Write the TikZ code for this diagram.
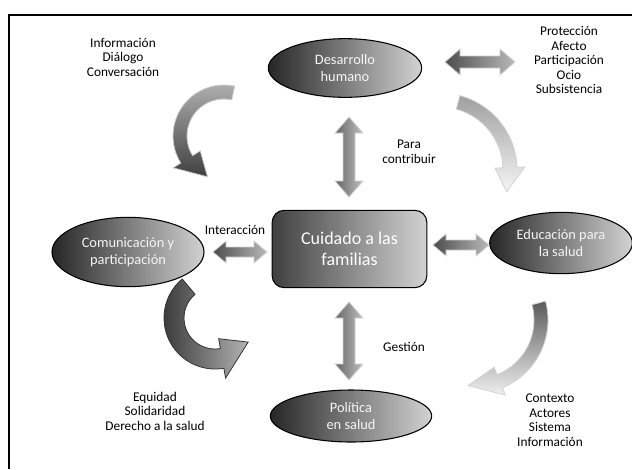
\documentclass[tikz,border=0pt]{standalone}
\usepackage{fontspec}
\setmainfont{Carlito}
\usetikzlibrary{shapes.geometric}
\newcommand\dblarrow[7]{%
  \begin{scope}[shift={#1},rotate=#2]
    \path[#7] (-#3,0) -- (-#3+#6,-#5) -- (-#3+#6,-#4) -- (#3-#6,-#4) -- (#3-#6,-#5)
      -- (#3,0) -- (#3-#6,#5) -- (#3-#6,#4) -- (-#3+#6,#4) -- (-#3+#6,#5) -- cycle;
  \end{scope}}
% center, R, start angle, head base angle, tip angle, half shaft, half head, style
\newcommand\curvedarrow[8]{%
  \begin{scope}[shift={#1}]
    \path[#8] (#3:#2+#6) arc[start angle=#3, end angle=#4, radius=#2+#6]
      -- (#4:#2+#7) -- (#5:#2) -- (#4:#2-#7) -- (#4:#2-#6)
      arc[start angle=#4, end angle=#3, radius=#2-#6] -- cycle;
  \end{scope}}
\begin{document}
\begin{tikzpicture}[x=0.75pt,y=-0.75pt,
  lbl/.style={align=center,font=\fontsize{10}{10.9}\selectfont,inner sep=0pt},
  oval/.style={ellipse,draw=black,line width=0.8pt,left color=black!85,right color=gray!35,
    text=white!92!gray,align=center,font=\fontsize{10.8}{13}\selectfont,inner sep=0pt},
  hub/.style={rectangle,rounded corners=9pt,draw=black,line width=0.8pt,left color=black!75,
    right color=gray!35,text=white,align=center,font=\fontsize{13.5}{15.5}\selectfont,
    minimum width=116pt,minimum height=58pt},
  darr/.style={draw=gray!35,line width=0.6pt,left color=black!70,right color=gray!55},
  darrv/.style={draw=gray!35,line width=0.6pt,left color=black!60,right color=gray!50},
  frame/.style={line width=1.3pt,black}]
\useasboundingbox (0,0) rectangle (632,469);
\draw[frame] (9,469) -- (9,15) -- (632,15);

\node[hub] (hub) at (349.5,249) {Cuidado a las\\familias};
\node[oval,minimum width=115pt,minimum height=44pt] (dh) at (345,68) {Desarrollo\\humano};
\node[oval,minimum width=114pt,minimum height=52pt] (cp) at (128,252) {Comunicación y\\participación};
\node[oval,minimum width=107pt,minimum height=46pt] (eps) at (561,243) {Educación para\\la salud};
\node[oval,minimum width=121pt,minimum height=39pt] (pol) at (351,416) {Política\\en salud};

\node[lbl] (info) at (123,57) {Información\\Diálogo\\Conversación};
\node[lbl] (prot) at (569,60) {Protección\\Afecto\\Participación\\Ocio\\Subsistencia};
\node[lbl] (para) at (409,152) {Para\\contribuir};
\node[lbl] (inter) at (235,230) {Interacción};
\node[lbl] (gest) at (404,347) {Gestión};
\node[lbl] (equi) at (155,411) {Equidad\\Solidaridad\\Derecho a la salud};
\node[lbl] (ctx) at (550,420) {Contexto\\Actores\\Sistema\\Información};

\dblarrow{(480,62)}{0}{35}{6}{13}{15}{darr}
\dblarrow{(240,252)}{0}{27}{5}{11}{13}{darr}
\dblarrow{(461,245)}{0}{28}{5}{11}{13}{darr}
\dblarrow{(349,157)}{90}{40}{6}{14}{16}{darrv}
\dblarrow{(349,341)}{90}{39}{6}{14}{16}{darrv}

\curvedarrow{(224,136)}{44}{282}{148}{112}{7}{16}{draw=gray!40,line width=0.6pt,top color=gray!60,bottom color=black!75}
\curvedarrow{(440,170)}{70}{-75}{-2}{18}{7}{15}{draw=gray!35,line width=0.6pt,top color=gray!75,bottom color=gray!8}
\curvedarrow{(215,318)}{41}{230}{80}{36}{10}{20}{draw=black!80,line width=0.6pt,left color=black!80,right color=gray!60}
\curvedarrow{(475,320)}{66}{-15}{68}{96}{7}{15}{draw=gray!35,line width=0.6pt,top color=black!65,bottom color=gray!12}
\end{tikzpicture}
\end{document}
